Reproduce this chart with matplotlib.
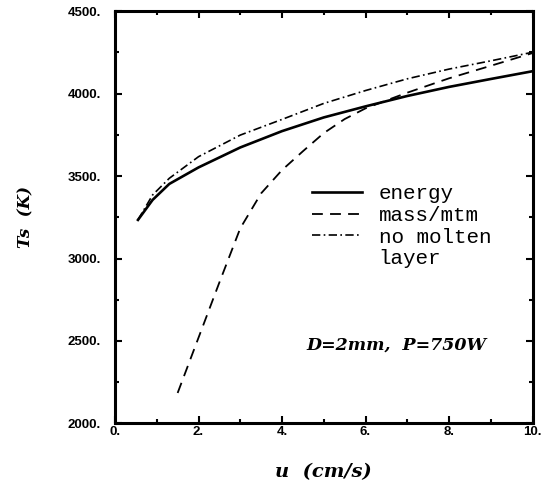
import matplotlib
matplotlib.use("Agg")
import matplotlib.pyplot as plt
from matplotlib.lines import Line2D
import numpy as np

# energy balance model
u_energy = [0.55, 0.9, 1.3, 2.0, 3.0, 4.0, 5.0, 6.0, 7.0, 8.0, 9.0, 10.0]
T_energy = [3234, 3355, 3452, 3552, 3673, 3772, 3855, 3922, 3985, 4040, 4088, 4135]

# mass / momentum model
u_mass = [1.5, 2.0, 2.5, 3.0, 3.5, 4.0, 4.5, 5.0, 5.5, 6.0, 6.5, 7.0, 8.0, 9.0, 10.0]
T_mass = [2185, 2520, 2855, 3183, 3395, 3536, 3650, 3760, 3845, 3910, 3958, 4005, 4092, 4168, 4245]

# no molten layer
u_nomelt = [0.55, 0.9, 1.3, 2.0, 3.0, 4.0, 5.0, 6.0, 7.0, 8.0, 9.0, 10.0]
T_nomelt = [3234, 3385, 3486, 3617, 3748, 3843, 3940, 4018, 4089, 4148, 4198, 4250]

xticks = [0, 2, 4, 6, 8, 10]
yticks = [2000, 2500, 3000, 3500, 4000, 4500]

fig = plt.figure(figsize=(5.43, 4.83), dpi=100)
ax = fig.add_axes([0.2118, 0.1232, 0.7689, 0.8540])

l1, = ax.plot(u_energy, T_energy, color="black", lw=1.9, ls="-")
l2, = ax.plot(u_mass, T_mass, color="black", lw=1.3, ls=(0, (6, 4)))
l3, = ax.plot(u_nomelt, T_nomelt, color="black", lw=1.2, ls=(0, (5, 2, 1, 2)))

ax.set_xlim(0, 10)
ax.set_ylim(2000, 4500)
ax.set_xticks(xticks)
ax.set_xticklabels([f"{v}." for v in xticks])
ax.set_yticks(yticks)
ax.set_yticklabels([f"{v}." for v in yticks])
ax.set_xticks(np.arange(1, 10, 2), minor=True)
ax.set_yticks(np.arange(2250, 4500, 500), minor=True)
ax.tick_params(which="both", direction="in", top=True, right=True, width=1.5)
ax.tick_params(which="major", length=5)
ax.tick_params(which="minor", length=3)
ax.tick_params(axis="x", pad=2)
ax.tick_params(axis="y", pad=10)
for lab in ax.get_xticklabels() + ax.get_yticklabels():
    lab.set_fontweight("bold")
    lab.set_fontsize(9.5)
    lab.set_family("Liberation Sans")
for sp in ax.spines.values():
    sp.set_linewidth(2.2)

ax.set_xlabel("u  (cm/s)", fontsize=14, fontstyle="italic", fontweight="bold",
              family="DejaVu Serif", labelpad=18)
ax.set_ylabel("Ts  (K)", fontsize=12, fontstyle="italic", fontweight="bold",
              family="DejaVu Serif", labelpad=24)

# second line of the last label gets an empty handle so the dash-dot sits on "no molten"
blank = Line2D([], [], color="none")
ax.legend([l1, l2, l3, blank], ["energy", "mass/mtm", "no molten", "layer"],
          loc="upper left", bbox_to_anchor=(0.472, 0.58), frameon=False,
          borderpad=0, borderaxespad=0,
          handlelength=2.4, handletextpad=0.8, labelspacing=0.13,
          prop={"family": "Liberation Mono", "size": 15})

ax.text(6.74, 2473, "D=2mm,  P=750W", fontsize=12.5, fontstyle="italic",
        fontweight="bold", family="DejaVu Serif", ha="center", va="center")

fig.savefig("out.png", dpi=100)
